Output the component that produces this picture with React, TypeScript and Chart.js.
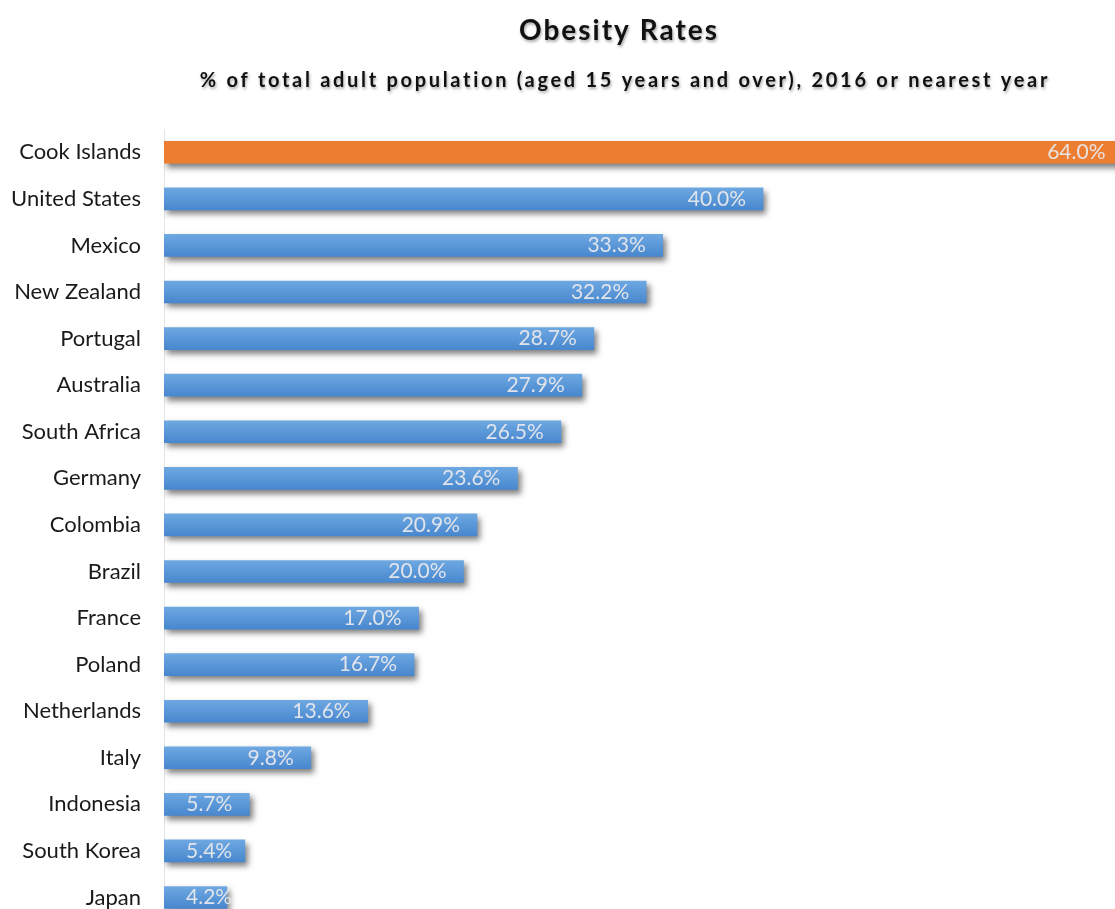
import { useEffect, useRef } from 'react';
import { Chart, registerables } from 'chart.js';

Chart.register(...registerables);

const countries = [
  'Cook Islands', 'United States', 'Mexico', 'New Zealand', 'Portugal', 'Australia',
  'South Africa', 'Germany', 'Colombia', 'Brazil', 'France', 'Poland', 'Netherlands',
  'Italy', 'Indonesia', 'South Korea', 'Japan',
];
const obesityRates = [64.0, 40.0, 33.3, 32.2, 28.7, 27.9, 26.5, 23.6, 20.9, 20.0, 17.0, 16.7, 13.6, 9.8, 5.7, 5.4, 4.2];
const highlighted = ['Cook Islands'];
const titleText = 'Obesity Rates';
const subtitleText = '% of total adult population (aged 15 years and over), 2016 or nearest year';

const FONT = 'Lato, "Noto Sans", sans-serif';
const BAR_THICKNESS = 22;

const shadowPlugin = {
  id: 'barShadow',
  beforeDatasetsDraw(chart: any) {
    const c = chart.ctx;
    c.save();
    c.shadowColor = 'rgba(0,0,0,0.5)';
    c.shadowBlur = 6;
    c.shadowOffsetX = 3;
    c.shadowOffsetY = 4;
  },
  afterDatasetsDraw(chart: any) {
    chart.ctx.restore();
  },
};

const labelsAndTitlePlugin = {
  id: 'labelsAndTitle',
  afterDraw(chart: any) {
    const c = chart.ctx;
    const meta = chart.getDatasetMeta(0);
    c.save();
    c.font = `21px ${FONT}`;
    c.fillStyle = 'rgba(232,232,236,0.95)';
    c.textAlign = 'right';
    c.textBaseline = 'middle';
    meta.data.forEach((bar: any, i: number) => {
      const { x, y, base } = bar.getProps(['x', 'y', 'base'], true);
      const text = obesityRates[i].toFixed(1) + '%';
      const w = c.measureText(text).width;
      let right = x - 17;
      if (right - w < base + 22) right = base + 22 + w;
      c.fillText(text, right, y);
    });
    c.restore();

    c.save();
    c.textAlign = 'center';
    c.textBaseline = 'middle';
    c.fillStyle = '#111111';
    c.shadowColor = 'rgba(0,0,0,0.35)';
    c.shadowBlur = 3;
    c.shadowOffsetY = 2;
    c.shadowOffsetX = 1;
    (c as any).letterSpacing = '2px';
    c.font = `bold 28px ${FONT}`;
    c.fillText(titleText, 619, 31);
    (c as any).letterSpacing = '2.7px';
    c.font = `bold 20px ${FONT}`;
    c.fillText(subtitleText, 625, 81);
    c.restore();
  },
};

export default function App() {
  const canvasRef = useRef<HTMLCanvasElement | null>(null);

  useEffect(() => {
    if (!canvasRef.current) return;
    const chart = new Chart(canvasRef.current, {
      type: 'bar',
      data: {
        labels: countries,
        datasets: [
          {
            data: obesityRates,
            barThickness: BAR_THICKNESS,
            borderWidth: 0,
            backgroundColor: (ctx: any) => {
              const name = countries[ctx.dataIndex];
              if (highlighted.includes(name)) return '#ED7D31';
              const chart = ctx.chart;
              const yScale = chart.scales?.y;
              if (!chart.chartArea || !yScale || ctx.type !== 'data') return '#5B9BD5';
              const yc = yScale.getPixelForValue(ctx.dataIndex);
              const g = chart.ctx.createLinearGradient(0, yc - BAR_THICKNESS / 2, 0, yc + BAR_THICKNESS / 2);
              g.addColorStop(0, '#6EA8E2');
              g.addColorStop(1, '#4787CE');
              return g;
            },
          },
        ],
      },
      options: {
        indexAxis: 'y',
        animation: false,
        responsive: false,
        maintainAspectRatio: false,
        layout: { padding: { top: 129, bottom: 4, left: 0, right: 0 } },
        plugins: {
          legend: { display: false },
          title: { display: false },
          tooltip: { enabled: false },
        },
        scales: {
          x: { display: false, min: 0, max: 63.5 },
          y: {
            grid: { display: false, drawTicks: false },
            border: { display: true, color: '#e4e4e4', width: 1 },
            ticks: {
              color: '#1a1a1a',
              padding: 23,
              font: { family: FONT, size: 22 },
            },
            afterFit(scale: any) {
              scale.width = 164;
            },
          },
        },
      },
      plugins: [shadowPlugin, labelsAndTitlePlugin],
    } as any);
    return () => chart.destroy();
  }, []);

  return (
    <div style={{ position: 'absolute', left: 0, top: 0, width: 1115, height: 909, overflow: 'hidden', background: '#ffffff' }}>
      <canvas ref={canvasRef} width={1115} height={957} style={{ display: 'block' }} />
    </div>
  );
}
